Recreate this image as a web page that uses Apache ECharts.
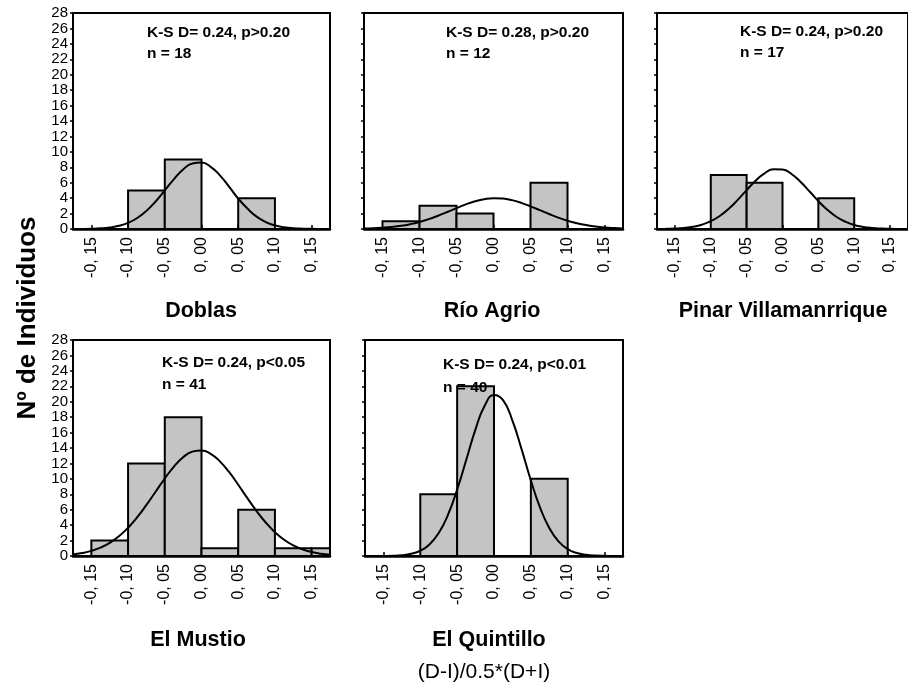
<!DOCTYPE html>
<html>
<head>
<meta charset="utf-8">
<title>Histogramas (D-I)/0.5*(D+I)</title>
<script src="https://cdn.jsdelivr.net/npm/echarts@6/dist/echarts.min.js"></script>
<style>
  html, body { margin: 0; padding: 0; background: #fff; }
  #container { width: 908px; height: 684px; }
</style>
</head>
<body>
<div id="container"></div>
<script>
// histogram classes: start of each class, width 0.05
const binStarts = [-0.15, -0.10, -0.05, 0.00, 0.05, 0.10, 0.15];
const binWidth = 0.05;

const siteNames = ['Doblas', 'Río Agrio', 'Pinar Villamanrrique', 'El Mustio', 'El Quintillo'];

const doblasCounts    = [0, 5, 9, 0, 4, 0, 0];
const rioAgrioCounts  = [1, 3, 2, 0, 6, 0, 0];
const pinarCounts     = [0, 7, 6, 0, 4, 0, 0];
const mustioCounts    = [2, 12, 18, 1, 6, 1, 1];
const quintilloCounts = [0, 8, 22, 0, 10, 0, 0];

// fitted normal curves, every 0.0125
const curveX = [-0.175, -0.1625, -0.15, -0.1375, -0.125, -0.1125, -0.1, -0.0875, -0.075, -0.0625,
                -0.05, -0.0375, -0.025, -0.0125, 0, 0.0125, 0.025, 0.0375, 0.05, 0.0625,
                0.075, 0.0875, 0.1, 0.1125, 0.125, 0.1375, 0.15, 0.1625, 0.175];
const doblasCurve    = [0, 0.01, 0.035, 0.09, 0.2, 0.41, 0.8, 1.43, 2.35, 3.57,
                        5.0, 6.47, 7.72, 8.49, 8.61, 8.06, 6.96, 5.5, 3.95, 2.65,
                        1.6, 0.9, 0.47, 0.23, 0.1, 0.04, 0.02, 0.01, 0];
const rioAgrioCurve  = [0.05, 0.09, 0.16, 0.26, 0.41, 0.63, 0.92, 1.28, 1.72, 2.2,
                        2.71, 3.19, 3.59, 3.87, 4.0, 3.95, 3.74, 3.39, 2.94, 2.45,
                        1.95, 1.48, 1.08, 0.76, 0.51, 0.33, 0.2, 0.12, 0.07];
const pinarCurve     = [0.01, 0.03, 0.06, 0.14, 0.29, 0.56, 1.01, 1.69, 2.62, 3.77,
                        5.04, 6.26, 7.22, 7.74, 7.71, 7.13, 6.12, 4.89, 3.62, 2.5,
                        1.59, 0.95, 0.52, 0.27, 0.13, 0.06, 0.02, 0.01, 0];
const mustioCurve    = [0.22, 0.39, 0.66, 1.08, 1.7, 2.55, 3.66, 5.03, 6.62, 8.33,
                        10.05, 11.59, 12.8, 13.53, 13.68, 13.25, 12.27, 10.89, 9.24, 7.5,
                        5.83, 4.34, 3.09, 2.1, 1.37, 0.86, 0.51, 0.29, 0.16];
const quintilloCurve = [0, 0, 0.01, 0.03, 0.1, 0.28, 0.68, 1.5, 2.97, 5.32,
                        8.6, 12.5, 16.45, 19.5, 20.87, 20.17, 17.56, 13.82, 9.8, 6.28,
                        3.62, 1.89, 0.89, 0.38, 0.15, 0.05, 0.02, 0, 0];

const ksLabels = ['K-S D= 0.24, p>0.20', 'K-S D= 0.28, p>0.20', 'K-S D= 0.24, p>0.20', 'K-S D= 0.24, p<0.05', 'K-S D= 0.24, p<0.01'];
const nLabels = ['n = 18', 'n = 12', 'n = 17', 'n = 41', 'n = 40'];

const xTickValues = [-0.15, -0.10, -0.05, 0, 0.05, 0.10, 0.15];
const xTickLabels = ['-0, 15', '-0, 10', '-0, 05', '0, 00', '0, 05', '0, 10', '0, 15'];

const allCounts = [doblasCounts, rioAgrioCounts, pinarCounts, mustioCounts, quintilloCounts];
const allCurves = [doblasCurve, rioAgrioCurve, pinarCurve, mustioCurve, quintilloCurve];

// panel boxes and text spots
const panels = [
    { left: 73,  top: 13,  width: 257, yLabels: true,  ks: [147, 33],  n: [147, 54],  title: [201, 311] },
    { left: 364, top: 13,  width: 259, yLabels: false, ks: [446, 33],  n: [446, 54],  title: [492, 311] },
    { left: 657, top: 13,  width: 257, yLabels: false, ks: [740, 32],  n: [740, 53],  title: [783, 311] },
    { left: 73,  top: 340, width: 257, yLabels: true,  ks: [162, 363], n: [162, 385], title: [198, 640] },
    { left: 365, top: 340, width: 258, yLabels: false, ks: [443, 365], n: [443, 388], title: [489, 640] }
];

const fontFam = '"Liberation Sans", Arial, sans-serif';

function renderBin(params, api) {
    const p0 = api.coord([api.value(0), api.value(2)]);
    const p1 = api.coord([api.value(1), 0]);
    const rect = echarts.graphic.clipRectByRect({
        x: p0[0], y: p0[1], width: p1[0] - p0[0], height: p1[1] - p0[1]
    }, params.coordSys);
    if (!rect) return null;
    return {
        type: 'rect',
        shape: rect,
        style: { fill: '#c4c4c4', stroke: '#000', lineWidth: 2 }
    };
}

function tickLabel(v) {
    const i = xTickValues.findIndex(t => Math.abs(t - v) < 1e-9);
    return i >= 0 ? xTickLabels[i] : '';
}

function textEl(x, y, text, font, align) {
    return {
        type: 'text', x: x, y: y, z: 10,
        style: { text: text, font: font, fill: '#000',
                 textAlign: align, textVerticalAlign: 'middle', align: align, verticalAlign: 'middle' }
    };
}

var grid = [], xAxis = [], yAxis = [], series = [], graphic = [];

panels.forEach(function(p, k) {
    grid.push({
        left: p.left, top: p.top, width: p.width, height: 216,
        show: true, borderColor: '#000', borderWidth: 2, backgroundColor: 'transparent'
    });
    xAxis.push({
        type: 'value', gridIndex: k, min: -0.175, max: 0.175,
        splitLine: { show: false },
        axisLine: { onZero: false, lineStyle: { color: '#000', width: 2.5 } },
        axisTick: { inside: true, length: 4, customValues: xTickValues, lineStyle: { color: '#000', width: 1.5 } },
        axisLabel: {
            customValues: xTickValues, rotate: 90, margin: 8,
            fontSize: 16, fontFamily: fontFam, color: '#000',
            formatter: tickLabel
        }
    });
    yAxis.push({
        type: 'value', gridIndex: k, min: 0, max: 28, interval: 2,
        splitLine: { show: false },
        axisLine: { show: true, onZero: false, lineStyle: { color: '#000', width: 2 } },
        axisTick: { show: true, length: 3, lineStyle: { color: '#000', width: 1.5 } },
        axisLabel: {
            show: p.yLabels, margin: 5, fontSize: 15, lineHeight: 15,
            showMinLabel: true, showMaxLabel: true, hideOverlap: false,
            fontFamily: fontFam, color: '#000'
        }
    });

    const bins = [];
    allCounts[k].forEach(function(c, i) {
        if (c > 0) bins.push([binStarts[i], binStarts[i] + binWidth, c]);
    });
    series.push({
        type: 'custom', xAxisIndex: k, yAxisIndex: k,
        renderItem: renderBin,
        encode: { x: [0, 1], y: 2 },
        data: bins, z: 2, silent: true
    });
    series.push({
        type: 'line', xAxisIndex: k, yAxisIndex: k,
        data: curveX.map((x, i) => [x, allCurves[k][i]]),
        smooth: 0.5, showSymbol: false, clip: true,
        lineStyle: { color: '#000', width: 2 }, z: 3, silent: true
    });

    graphic.push(textEl(p.ks[0], p.ks[1], ksLabels[k], 'bold 15.5px ' + fontFam, 'left'));
    graphic.push(textEl(p.n[0], p.n[1], nLabels[k], 'bold 15.5px ' + fontFam, 'left'));
    graphic.push(textEl(p.title[0], p.title[1], siteNames[k], 'bold 21.5px ' + fontFam, 'center'));
});

// common axis names
graphic.push(textEl(484, 672, '(D-I)/0.5*(D+I)', '21px ' + fontFam, 'center'));
var yName = textEl(28, 318, 'Nº de Individuos', 'bold 26px ' + fontFam, 'center');
yName.rotation = Math.PI / 2;
graphic.push(yName);

var myChart = echarts.init(document.getElementById('container'));
var option = {
    backgroundColor: '#fff',
    animation: false,
    grid: grid,
    xAxis: xAxis,
    yAxis: yAxis,
    series: series,
    graphic: graphic
};
myChart.setOption(option);
window.addEventListener('resize', myChart.resize);
</script>
</body>
</html>
